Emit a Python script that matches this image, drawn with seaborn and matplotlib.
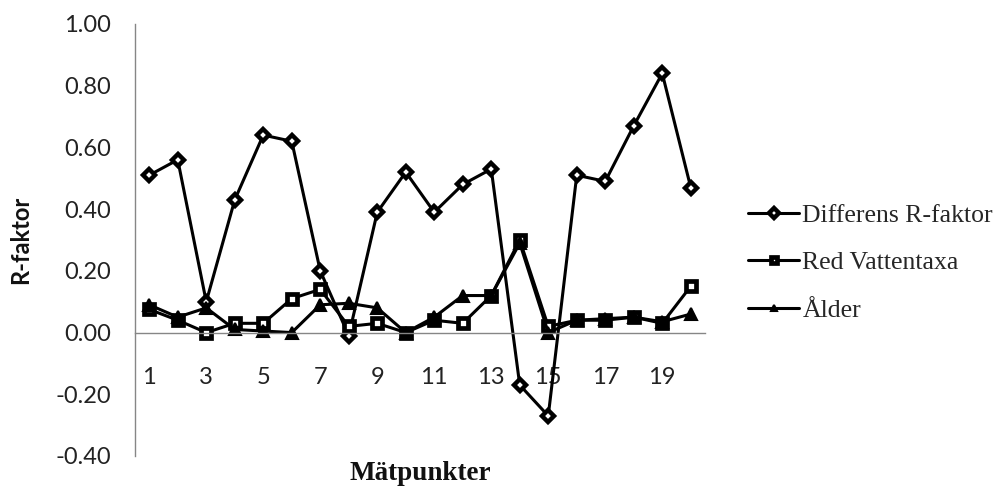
import matplotlib
matplotlib.use("Agg")
import matplotlib.pyplot as plt
import seaborn as sns
import pandas as pd
from matplotlib.ticker import FixedLocator, FixedFormatter

points = list(range(1, 21))
differens = [0.51, 0.56, 0.10, 0.43, 0.64, 0.62, 0.20, -0.01, 0.39, 0.52,
             0.39, 0.48, 0.53, -0.17, -0.27, 0.51, 0.49, 0.67, 0.84, 0.47]
vattentaxa = [0.075, 0.04, 0.00, 0.03, 0.03, 0.11, 0.14, 0.02, 0.03, 0.00,
              0.04, 0.03, 0.12, 0.30, 0.02, 0.04, 0.04, 0.05, 0.03, 0.15]
alder = [0.09, 0.05, 0.08, 0.01, 0.005, 0.00, 0.09, 0.095, 0.08, 0.00,
         0.05, 0.12, 0.12, 0.29, 0.00, 0.04, 0.045, 0.05, 0.035, 0.06]
series_names = ["Differens R-faktor", "Red Vattentaxa", "Ålder"]
x_tick_labels = ["1", "3", "5", "7", "9", "11", "13", "15", "17", "19"]
y_ticks = [-0.40, -0.20, 0.00, 0.20, 0.40, 0.60, 0.80, 1.00]

df = pd.DataFrame({
    "Mätpunkt": points * 3,
    "R": differens + vattentaxa + alder,
    "Serie": [series_names[0]] * 20 + [series_names[1]] * 20 + [series_names[2]] * 20,
})

sns.set_style("white")
fig = plt.figure(figsize=(10.03, 4.88), dpi=100)
ax = fig.add_axes([135 / 1003, 1 - 456 / 488, (705 - 135) / 1003, (456 - 24) / 488])

styles = {
    series_names[0]: dict(marker="D", markersize=6, markerfacecolor="white",
                          markeredgecolor="black", markeredgewidth=3.2),
    series_names[1]: dict(marker="s", markersize=7, markerfacecolor="white",
                          markeredgecolor="black", markeredgewidth=3.4),
    series_names[2]: dict(marker="^", markersize=9, markerfacecolor="black",
                          markeredgecolor="black", markeredgewidth=1.5),
}
for name in series_names:
    sub = df[df["Serie"] == name]
    sns.lineplot(data=sub, x="Mätpunkt", y="R", ax=ax, color="black",
                 linewidth=2.2, label=name, **styles[name])

gray = "#868686"
ax.set_xlim(0.5, 20.5)
ax.set_ylim(-0.40, 1.00)
for s in ["top", "right"]:
    ax.spines[s].set_visible(False)
ax.spines["bottom"].set_position(("data", 0))
ax.spines["bottom"].set_color(gray)
ax.spines["left"].set_color(gray)
ax.spines["bottom"].set_linewidth(1.0)
ax.spines["left"].set_linewidth(1.0)

ax.set_yticks(y_ticks)
ax.set_yticklabels([f"{v:.2f}" for v in y_ticks])
ax.tick_params(axis="y", direction="out", length=6, width=1, color=gray,
               pad=11, labelsize=17, labelcolor="#222222")

ax.xaxis.set_major_locator(FixedLocator(list(range(1, 21, 2))))
ax.xaxis.set_major_formatter(FixedFormatter(x_tick_labels))
ax.xaxis.set_minor_locator(FixedLocator([i + 0.5 for i in range(0, 21)]))
ax.tick_params(axis="x", which="major", length=0, pad=25, labelsize=17,
               labelcolor="#222222")
ax.tick_params(axis="x", which="minor", direction="out", length=6, width=1,
               color=gray)
for lab in ax.get_xticklabels() + ax.get_yticklabels():
    lab.set_family(["Lato", "DejaVu Sans"])

ax.set_xlabel("")
ax.set_ylabel("")
fig.text(21 / 1003, 1 - 240 / 488, "R-faktor", rotation=90, ha="center",
         va="center", fontsize=17, fontweight="bold",
         family=["Lato", "DejaVu Sans"], color="#111111")
fig.text(420 / 1003, 1 - 474 / 488, "Mätpunkter", ha="center", va="center",
         fontsize=19.5, fontweight="bold", family=["Liberation Serif", "DejaVu Serif"],
         color="#111111")

ax.get_legend().remove()
handles, labels = ax.get_legend_handles_labels()
leg = fig.legend(handles, labels, loc="center left",
                 bbox_to_anchor=(748 / 1003, 1 - 263 / 488),
                 frameon=False, borderpad=0, borderaxespad=0,
                 handlelength=2.0, handletextpad=0.12, labelspacing=0.95,
                 prop={"family": ["Liberation Serif", "DejaVu Serif"], "size": 18.5})
for h in leg.legend_handles:
    h.set_markersize(5)

fig.savefig("out.png", dpi=100)
